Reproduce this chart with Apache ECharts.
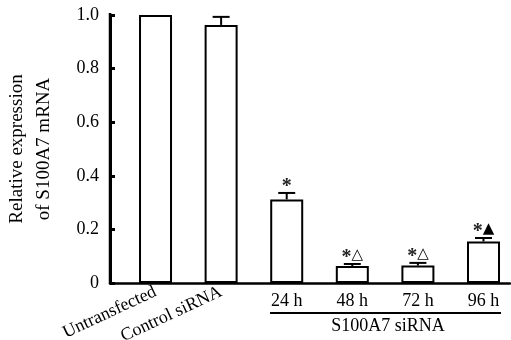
<!DOCTYPE html>
<html>
<head>
<meta charset="utf-8">
<script src="https://cdn.jsdelivr.net/npm/echarts@6/dist/echarts.min.js"></script>
<style>
html,body{margin:0;padding:0;background:#fff;}
#c{width:511px;height:340px;}
</style>
</head>
<body>
<div id="c"></div>
<script>
var categories = ['Untransfected', 'Control siRNA', '24 h', '48 h', '72 h', '96 h'];
var values = [1.0, 0.963, 0.312, 0.063, 0.065, 0.155];
var errors = [0, 0.03, 0.024, 0.008, 0.01, 0.013];
var stars = ['', '', '*', '*', '*', '*'];
var triangles = ['', '', '', '\u25B3', '\u25B3', '\u25B2'];
var yTickLabels = ['0', '0.2', '0.4', '0.6', '0.8', '1.0'];
var groupLabel = 'S100A7 siRNA';
var yName = 'Relative expression\nof S100A7 mRNA';

var FONT = '"Liberation Serif", "Times New Roman", serif';
var chart = echarts.init(document.getElementById('c'), null, {renderer: 'canvas'});

var barData = values.map(function (v, i) { return [i, v]; });
var errData = [];
values.forEach(function (v, i) { if (errors[i] > 0 || stars[i]) errData.push([i, v, errors[i]]); });

var xMin = -0.694, xMax = 5.404;

chart.setOption({
  animation: false,
  backgroundColor: '#fff',
  grid: {left: 110, right: 1, top: 15, bottom: 57, outerBoundsMode: 'none'},
  xAxis: [{
    type: 'value', min: xMin, max: xMax,
    axisLine: {show: true, onZero: false, lineStyle: {color: '#000', width: 2.5}},
    axisTick: {show: false},
    splitLine: {show: false},
    axisLabel: {
      customValues: [0, 1], rotate: 25, margin: 8,
      fontFamily: FONT, fontSize: 18, color: '#000',
      formatter: function (v) { return categories[Math.round(v)]; }
    }
  }, {
    type: 'value', min: xMin, max: xMax, position: 'bottom',
    axisLine: {show: false, onZero: false}, axisTick: {show: false}, splitLine: {show: false},
    axisLabel: {
      customValues: [2, 3, 4, 5], margin: 9,
      fontFamily: FONT, fontSize: 18, color: '#000',
      formatter: function (v) { return categories[Math.round(v)]; }
    }
  }],
  yAxis: {
    type: 'value', min: 0, max: 1, interval: 0.2, z: 10,
    name: yName, nameLocation: 'middle', nameGap: 52,
    nameTextStyle: {fontFamily: FONT, fontSize: 19, color: '#000', lineHeight: 27},
    axisLine: {show: true, onZero: false, lineStyle: {color: '#000', width: 3}},
    axisTick: {show: true, inside: true, length: 5, lineStyle: {color: '#000', width: 3}},
    splitLine: {show: false},
    axisLabel: {
      margin: 11, fontFamily: FONT, fontSize: 18, color: '#000',
      formatter: function (v) { return yTickLabels[Math.round(v / 0.2)]; }
    }
  },
  series: [{
    type: 'bar', xAxisIndex: 0, data: barData, barWidth: 33,
    itemStyle: {color: '#fff', borderColor: '#000', borderWidth: 2},
    z: 2
  }, {
    type: 'custom', xAxisIndex: 0, data: errData, z: 3,
    renderItem: function (params, api) {
      var i = api.value(0), v = api.value(1), e = api.value(2);
      var idx = Math.round(i);
      var base = api.coord([i, v]);
      var top = api.coord([i, v + e]);
      var children = [];
      if (e > 0) {
        children.push({type: 'line', shape: {x1: base[0], y1: base[1], x2: top[0], y2: top[1]}, style: {stroke: '#000', lineWidth: 2}});
        children.push({type: 'line', shape: {x1: top[0] - 8.5, y1: top[1], x2: top[0] + 8.5, y2: top[1]}, style: {stroke: '#000', lineWidth: 2}});
      }
      if (stars[idx]) {
        var txt = '{s|' + stars[idx] + '}' + (triangles[idx] ? '{t|' + triangles[idx] + '}' : '');
        children.push({type: 'text', x: top[0], y: top[1] - 1, style: {
          text: txt, align: 'center', verticalAlign: 'bottom',
          rich: {
            s: {fontFamily: FONT, fontSize: 20, fontWeight: 'bold', fill: '#222', lineHeight: 16, padding: [6, 0, 0, 0]},
            t: {fontFamily: '"DejaVu Sans", sans-serif', fontSize: 15, fill: '#000', lineHeight: 16}
          }
        }});
      }
      return {type: 'group', children: children};
    }
  }],
  graphic: [{
    type: 'line', z: 100, shape: {x1: 110, y1: 13, x2: 110, y2: 284}, style: {stroke: '#000', lineWidth: 2.5}
  }, {
    type: 'line', shape: {x1: 270, y1: 313, x2: 501, y2: 313}, style: {stroke: '#000', lineWidth: 2}
  }, {
    type: 'text', x: 388, y: 326, style: {
      text: groupLabel, align: 'center', verticalAlign: 'middle',
      font: '18px "Liberation Serif", "Times New Roman", serif', fill: '#000'
    }
  }]
});
</script>
</body>
</html>
